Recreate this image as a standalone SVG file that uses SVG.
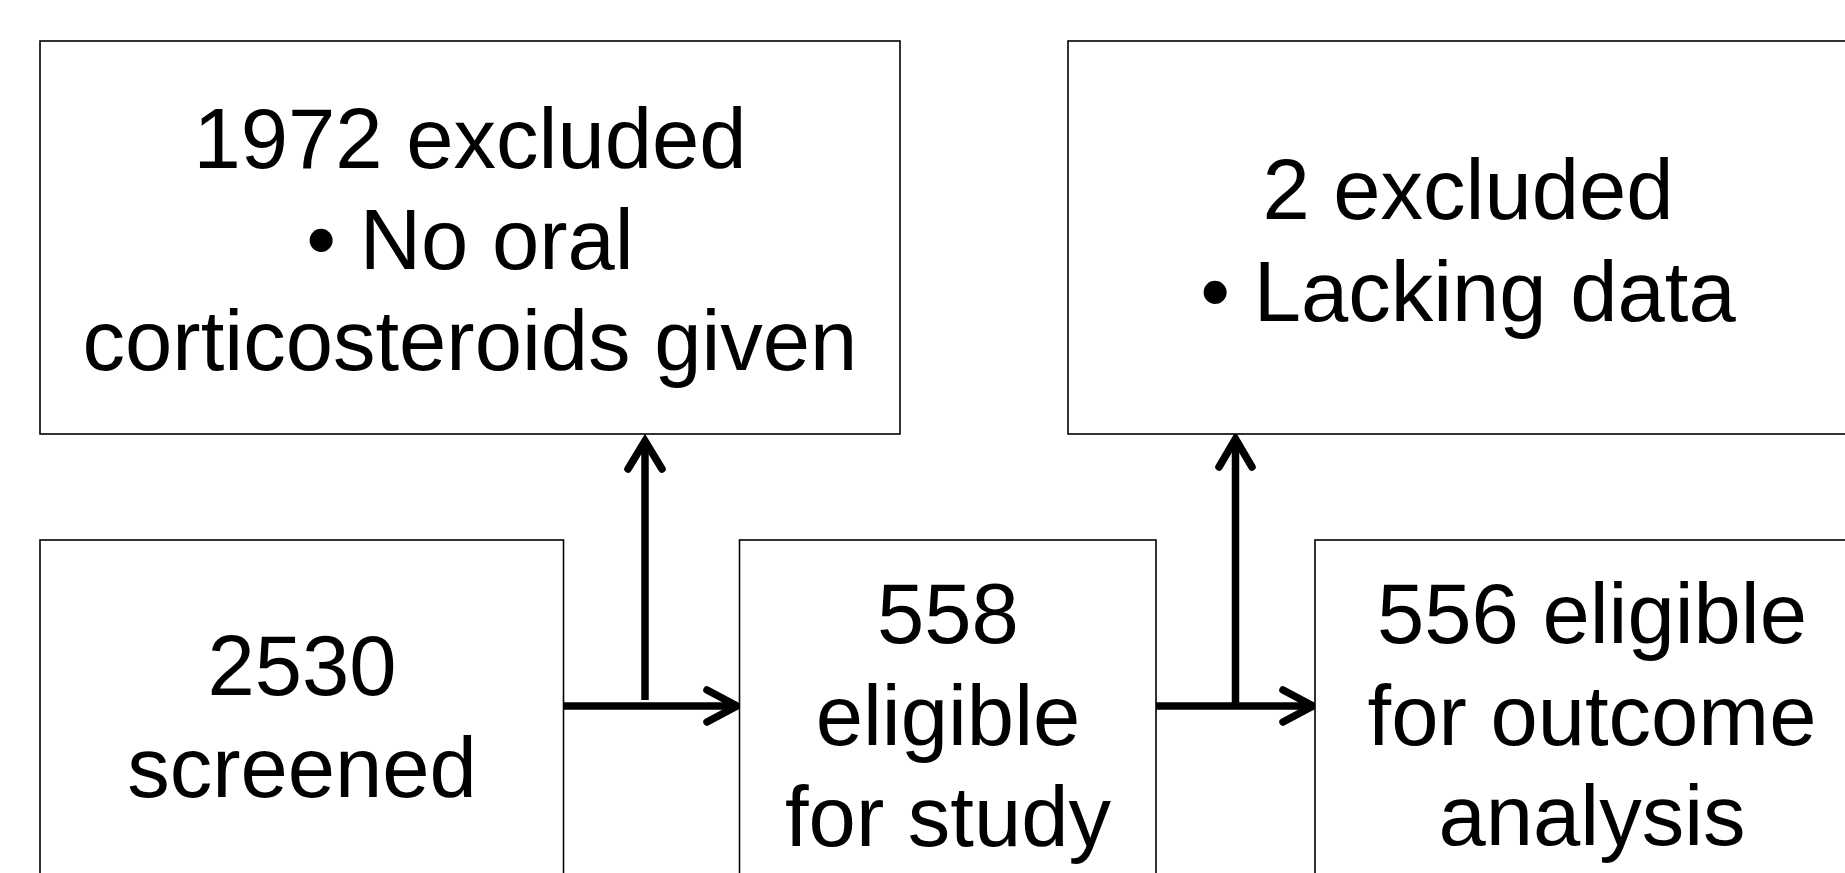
<svg xmlns="http://www.w3.org/2000/svg" width="1845" height="873" viewBox="0 0 1845 873">
<style>
.box{fill:#fff;stroke:#000;stroke-width:1.6}
.t{font-family:"Liberation Sans",Arial,sans-serif;font-size:85px;fill:#000;text-anchor:middle}
.ln{fill:none;stroke:#000;stroke-width:7.5}
.hd{fill:none;stroke:#000;stroke-width:7.5;stroke-linecap:round;stroke-linejoin:miter}
</style>
<rect width="1845" height="873" fill="#fff"/>
<g id="connectors">
<line class="ln" x1="563" y1="706" x2="735" y2="706"/>
<polyline class="hd" points="707,690 737,706 707,722"/>
<line class="ln" x1="645" y1="700" x2="645" y2="443"/>
<polyline class="hd" points="628,469 645,441 662,469"/>
<line class="ln" x1="1156" y1="706" x2="1311" y2="706"/>
<polyline class="hd" points="1283,690 1313,706 1283,722"/>
<line class="ln" x1="1235.5" y1="706" x2="1235.5" y2="441"/>
<polyline class="hd" points="1219,467 1235.5,439 1252,467"/>
</g>
<g id="n1">
<rect class="box" x="40" y="41" width="860" height="393"/>
<text class="t" x="470" y="168">1972 excluded</text>
<text class="t" x="470" y="269">• No oral</text>
<text class="t" x="470" y="370">corticosteroids given</text>
</g>
<g id="n2">
<rect class="box" x="1068" y="41" width="800" height="393"/>
<text class="t" x="1468" y="219">2 excluded</text>
<text class="t" x="1468" y="321">• Lacking data</text>
</g>
<g id="n3">
<rect class="box" x="40" y="540" width="523.5" height="360"/>
<text class="t" x="302" y="695">2530</text>
<text class="t" x="302" y="797">screened</text>
</g>
<g id="n4">
<rect class="box" x="739.5" y="540" width="416.5" height="360"/>
<text class="t" x="948" y="643">558</text>
<text class="t" x="948" y="745">eligible</text>
<text class="t" x="948" y="846">for study</text>
</g>
<g id="n5">
<rect class="box" x="1315" y="540" width="560" height="360"/>
<text class="t" x="1592" y="643">556 eligible</text>
<text class="t" x="1592" y="745">for outcome</text>
<text class="t" x="1592" y="845">analysis</text>
</g>
</svg>
